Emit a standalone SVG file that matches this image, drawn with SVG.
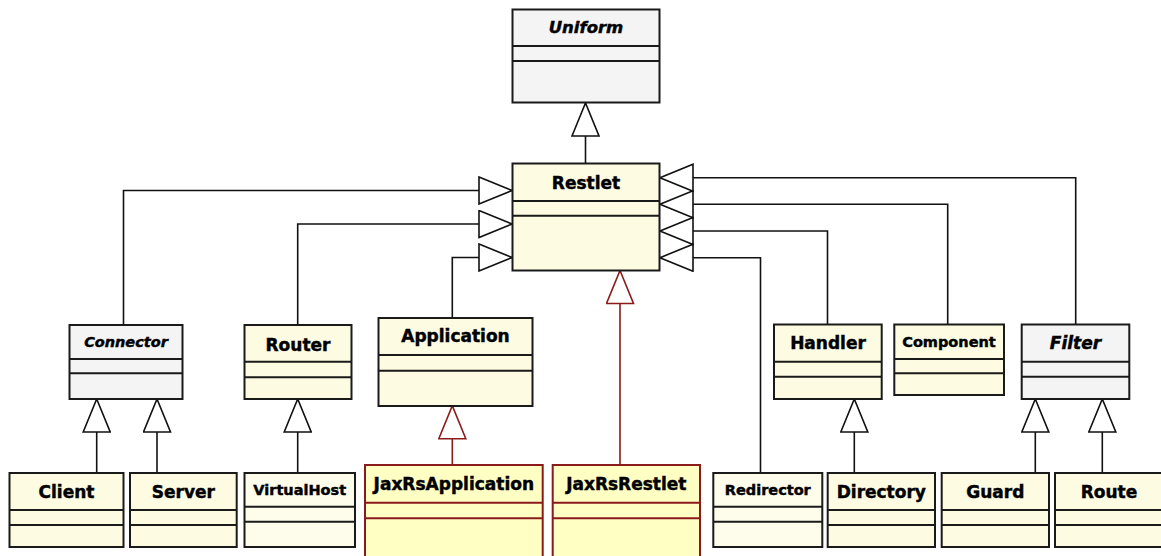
<svg xmlns="http://www.w3.org/2000/svg" width="1161" height="556" viewBox="0 0 1161 556">
<style>
.box{stroke:#1a1a1a;stroke-width:2}
.gray{fill:#f4f4f4}
.yel{fill:#fdfce3}
.lyel{fill:#fefdec}
.jax{fill:#ffffc4;stroke:#8b1a1a;stroke-width:2}
.div{stroke:#1a1a1a;stroke-width:2;fill:none}
.jdiv{stroke:#8b1a1a;stroke-width:2;fill:none}
.t{font-family:"DejaVu Sans","Verdana",sans-serif;font-weight:bold;text-anchor:middle;fill:#000;stroke:#000;stroke-width:0.45;font-size:17px}
.s{font-size:14.5px}
.i{font-style:italic}
.c{fill:none;stroke:#111;stroke-width:1.6}
.r{fill:none;stroke:#8b1a1a;stroke-width:1.6}
</style>
<defs>
<marker id="gen" viewBox="0 0 35 29" refX="34" refY="14.5" markerWidth="35" markerHeight="29" markerUnits="userSpaceOnUse" orient="auto">
<path d="M1,1 L34,14.5 L1,28 Z" fill="#fff" stroke="#111" stroke-width="1.6"/>
</marker>
<marker id="genr" viewBox="0 0 35 29" refX="34" refY="14.5" markerWidth="35" markerHeight="29" markerUnits="userSpaceOnUse" orient="auto">
<path d="M1,1 L34,14.5 L1,28 Z" fill="#fff" stroke="#8b1a1a" stroke-width="1.6"/>
</marker>
</defs>

<g id="connectors">
<path class="c" d="M585.5,163 V103" marker-end="url(#gen)"/>
<path class="c" d="M123.5,325 V190.5 H512" marker-end="url(#gen)"/>
<path class="c" d="M297.7,325 V224 H512" marker-end="url(#gen)"/>
<path class="c" d="M452.3,318 V257.5 H512" marker-end="url(#gen)"/>
<path class="c" d="M760.5,473 V257.7 H660" marker-end="url(#gen)"/>
<path class="c" d="M827.5,324.5 V231 H660" marker-end="url(#gen)"/>
<path class="c" d="M947.7,324.5 V204.3 H660" marker-end="url(#gen)"/>
<path class="c" d="M1075.7,324.5 V177.7 H660" marker-end="url(#gen)"/>
<path class="r" d="M620,465 V270.5" marker-end="url(#genr)"/>
<path class="r" d="M452.3,465 V405.7" marker-end="url(#genr)"/>
<path class="c" d="M96.7,473 V399" marker-end="url(#gen)"/>
<path class="c" d="M157,473 V399" marker-end="url(#gen)"/>
<path class="c" d="M297.7,473 V399" marker-end="url(#gen)"/>
<path class="c" d="M854.3,473 V399" marker-end="url(#gen)"/>
<path class="c" d="M1035.3,473 V399" marker-end="url(#gen)"/>
<path class="c" d="M1102.3,473 V399" marker-end="url(#gen)"/>
</g>

<g id="Uniform">
<rect class="box gray" x="512.5" y="9.5" width="147" height="93"/>
<path class="div" d="M512.5,46 H659.5 M512.5,61 H659.5"/>
<text class="t i" x="586" y="33" style="font-size:16.5px">Uniform</text>
</g>

<g id="Restlet">
<rect class="box yel" x="512.5" y="163.5" width="147" height="107"/>
<path class="div" d="M512.5,201 H659.5 M512.5,215.7 H659.5"/>
<text class="t" x="586" y="188.5">Restlet</text>
</g>

<g id="Connector">
<rect class="box gray" x="69.5" y="325" width="113" height="74"/>
<path class="div" d="M69.5,359 H182.5 M69.5,373.3 H182.5"/>
<text class="t s i" x="126" y="346.7">Connector</text>
</g>

<g id="Router">
<rect class="box yel" x="244.5" y="325" width="107" height="74"/>
<path class="div" d="M244.5,361.7 H351.5 M244.5,377.3 H351.5"/>
<text class="t" x="298" y="350.7">Router</text>
</g>

<g id="Application">
<rect class="box yel" x="378.5" y="318" width="154" height="88"/>
<path class="div" d="M378.5,355 H532.5 M378.5,370.7 H532.5"/>
<text class="t" x="455.5" y="342.3">Application</text>
</g>

<g id="Handler">
<rect class="box yel" x="774" y="324.5" width="107.7" height="74.5"/>
<path class="div" d="M774,361.7 H881.7 M774,376.7 H881.7"/>
<text class="t" x="828" y="349.3">Handler</text>
</g>

<g id="Component">
<rect class="box yel" x="894.3" y="324.5" width="109.7" height="70.5"/>
<path class="div" d="M894.3,359 H1004 M894.3,373.3 H1004"/>
<text class="t s" x="949" y="346.7">Component</text>
</g>

<g id="Filter">
<rect class="box gray" x="1021.7" y="324.5" width="107.6" height="74.5"/>
<path class="div" d="M1021.7,361.7 H1129.3 M1021.7,376.7 H1129.3"/>
<text class="t i" x="1075.5" y="349.3">Filter</text>
</g>

<g id="Client">
<rect class="box yel" x="9.5" y="473" width="114" height="74"/>
<path class="div" d="M9.5,510 H123.5 M9.5,525 H123.5"/>
<text class="t" x="66.5" y="498">Client</text>
</g>

<g id="Server">
<rect class="box yel" x="130" y="473" width="106.7" height="74"/>
<path class="div" d="M130,510 H236.7 M130,525 H236.7"/>
<text class="t" x="183.3" y="498">Server</text>
</g>

<g id="VirtualHost">
<rect class="box lyel" x="244.5" y="473" width="110.5" height="74"/>
<path class="div" d="M244.5,506.7 H355 M244.5,521.7 H355"/>
<text class="t s" x="299.7" y="495">VirtualHost</text>
</g>

<g id="JaxRsApplication">
<rect class="jax" x="365" y="465" width="177.7" height="100"/>
<path class="jdiv" d="M365,502.7 H542.7 M365,518.3 H542.7"/>
<text class="t" x="453.8" y="490">JaxRsApplication</text>
</g>

<g id="JaxRsRestlet">
<rect class="jax" x="552.7" y="465" width="147.3" height="100"/>
<path class="jdiv" d="M552.7,502.7 H700 M552.7,518.3 H700"/>
<text class="t" x="626.3" y="490">JaxRsRestlet</text>
</g>

<g id="Redirector">
<rect class="box lyel" x="713.3" y="473" width="109" height="74"/>
<path class="div" d="M713.3,506.7 H822.3 M713.3,521.7 H822.3"/>
<text class="t s" x="767.8" y="495">Redirector</text>
</g>

<g id="Directory">
<rect class="box yel" x="827.7" y="473" width="107.3" height="74"/>
<path class="div" d="M827.7,510 H935 M827.7,525 H935"/>
<text class="t" x="881.3" y="498">Directory</text>
</g>

<g id="Guard">
<rect class="box yel" x="941.7" y="473" width="107.3" height="74"/>
<path class="div" d="M941.7,510 H1049 M941.7,525 H1049"/>
<text class="t" x="995.3" y="498">Guard</text>
</g>

<g id="Route">
<rect class="box yel" x="1055" y="473" width="108" height="74"/>
<path class="div" d="M1055,510 H1163 M1055,525 H1163"/>
<text class="t" x="1109" y="498">Route</text>
</g>
</svg>
